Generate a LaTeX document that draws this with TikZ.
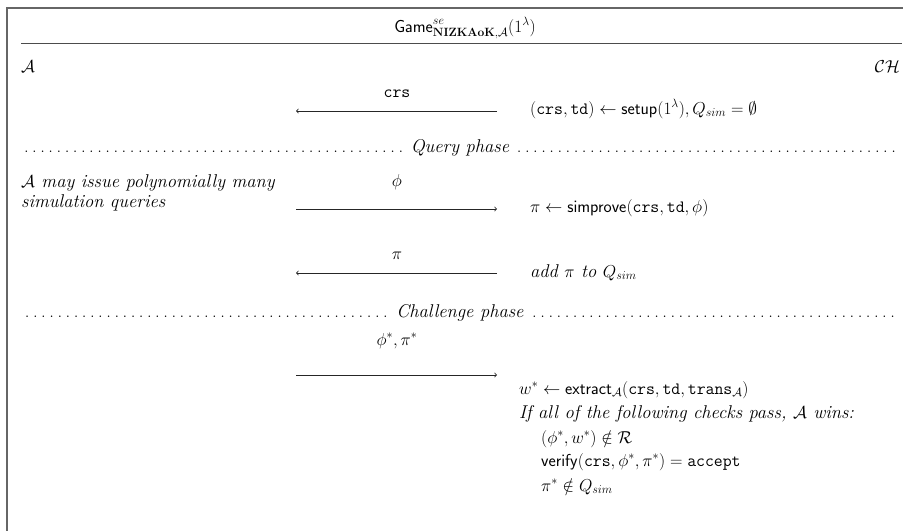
\documentclass[tikz,border=0pt]{standalone}
\usepackage{amsmath,amssymb}
\begin{document}
\begin{tikzpicture}[x=1pt,y=-1pt,
  frame/.style={draw=black!60,line width=1.6pt},
  rule/.style={draw=black!70,line width=0.9pt},
  msg/.style={draw=black!85,line width=0.8pt,-to},
  body/.style={inner sep=0pt,font=\fontsize{18.5}{22}\selectfont},
  txt/.style={body,anchor=base west},
  lbl/.style={body,anchor=base}]
\useasboundingbox (0,0) rectangle (903,531);
% outer frame (top and left edges) and title rule
\coordinate (tl) at (7,8);
\coordinate (tr) at (903,8);
\coordinate (bl) at (7,531);
\draw[frame] (tr) -- (tl) -- (bl);
\coordinate (r1) at (21,43);
\coordinate (r2) at (902,43);
\draw[rule] (r1) -- (r2);
% title
\node[lbl] (title) at (465,32) {$\mathsf{Game}^{se}_{\mathbf{NIZKAoK},\mathcal{A}}(1^\lambda)$};
% parties
\node[txt] (adv) at (21,72) {$\mathcal{A}$};
\node[txt,anchor=base east] (ch) at (900,72) {$\mathcal{CH}$};
% setup
\node[lbl] (m1) at (397,97) {$\mathtt{crs}$};
\coordinate (m1r) at (497,111);
\coordinate (m1l) at (296,111);
\draw[msg] (m1r) -- (m1l);
\node[txt] (setup) at (530,114) {$(\mathtt{crs},\mathtt{td})\leftarrow\mathsf{setup}(1^\lambda),Q_{sim}=\emptyset$};
% query phase
\node[lbl] (qp) at (460,152) {\makebox[876pt]{\dotfill\ \textit{Query phase}\ \dotfill}};
\node[txt] (issue1) at (21,187) {\textit{$\mathcal{A}$ may issue polynomially many}};
\node[txt] (issue2) at (21,207) {\textit{simulation queries}};
\node[lbl] (m2) at (397,186) {$\phi$};
\coordinate (m2l) at (296,209);
\coordinate (m2r) at (497,209);
\draw[msg] (m2l) -- (m2r);
\node[txt] (sim) at (530,212) {$\pi\leftarrow\mathsf{simprove}(\mathtt{crs},\mathtt{td},\phi)$};
\node[lbl] (m3) at (397,259) {$\pi$};
\coordinate (m3r) at (497,273);
\coordinate (m3l) at (296,273);
\draw[msg] (m3r) -- (m3l);
\node[txt] (add) at (530,277) {\textit{add $\pi$ to $Q_{sim}$}};
% challenge phase
\node[lbl] (cp) at (460,317) {\makebox[876pt]{\dotfill\ \textit{Challenge phase}\ \dotfill}};
\node[lbl] (m4) at (397,345) {$\phi^*,\pi^*$};
\coordinate (m4l) at (296,375);
\coordinate (m4r) at (497,375);
\draw[msg] (m4l) -- (m4r);
\node[txt] (ext) at (519,394) {$w^*\leftarrow\mathsf{extract}_{\mathcal{A}}(\mathtt{crs},\mathtt{td},\mathtt{trans}_{\mathcal{A}})$};
\node[txt] (win) at (519,418) {\textit{If all of the following checks pass, $\mathcal{A}$ wins:}};
\node[txt] (c1) at (541,443) {$(\phi^*,w^*)\notin\mathcal{R}$};
\node[txt] (c2) at (541,466) {$\mathsf{verify}(\mathtt{crs},\phi^*,\pi^*)=\mathtt{accept}$};
\node[txt] (c3) at (541,491) {$\pi^*\notin Q_{sim}$};
\end{tikzpicture}
\end{document}
